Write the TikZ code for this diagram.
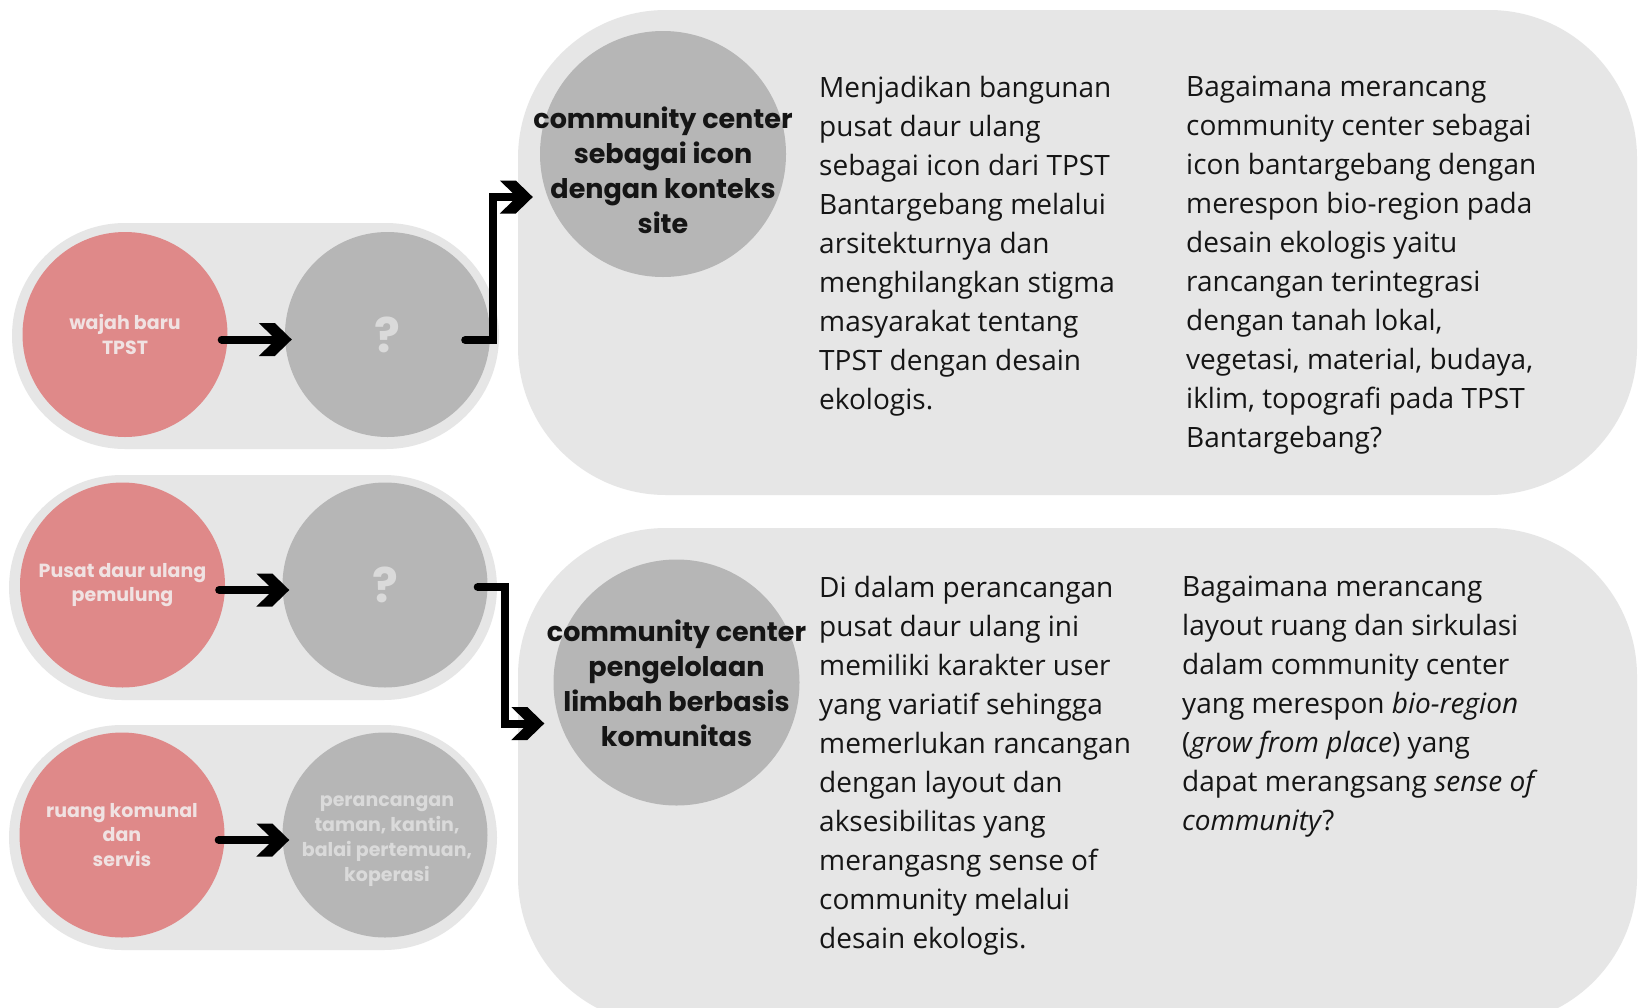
\documentclass[tikz,border=0pt]{standalone}
\usepackage{fontspec}
\setmainfont{Open Sans}
\newfontfamily\gothfam{Poppins}
\usetikzlibrary{arrows.meta}

% geometric sans for the disc labels
\newcommand\gothsmall{\gothfam\bfseries\fontsize{19}{24.5}\selectfont}
\newcommand\gothsmallx{\gothfam\bfseries\fontsize{19}{25.2}\selectfont}
\newcommand\gothbig{\gothfam\bfseries\fontsize{27}{35}\selectfont}
\newcommand\gothmark{\gothfam\bfseries\fontsize{48}{48}\selectfont}
\newcommand\bodytext{\fontsize{28}{39}\selectfont}

\definecolor{panel}{HTML}{E6E6E6}
\definecolor{rose}{HTML}{DF8989}
\definecolor{disc}{HTML}{B6B6B6}
\definecolor{rosetext}{HTML}{F0E2E2}
\definecolor{disctext}{HTML}{DADADA}
\definecolor{ink}{HTML}{151515}

% heavy chevron tip
\pgfdeclarearrow{
  name = Chevron,
  setup code = {
    \pgfarrowssettipend{0pt}
    \pgfarrowssetlineend{-14pt}
    \pgfarrowssetbackend{-33pt}
    \pgfarrowssetvisualbackend{-18pt}
  },
  drawing code = {
    \pgfpathmoveto{\pgfpoint{0pt}{0pt}}
    \pgfpathlineto{\pgfpoint{-17pt}{16.5pt}}
    \pgfpathlineto{\pgfpoint{-33pt}{16.5pt}}
    \pgfpathlineto{\pgfpoint{-16pt}{0pt}}
    \pgfpathlineto{\pgfpoint{-33pt}{-16.5pt}}
    \pgfpathlineto{\pgfpoint{-17pt}{-16.5pt}}
    \pgfpathclose
    \pgfusepathqfill
  }
}

\tikzset{
  pillbox/.style={fill=panel, rounded corners=113pt},
  panelbox/.style={fill=panel, rounded corners=148pt},
  rosedisc/.style={circle, fill=rose, minimum size=205pt, inner sep=0pt,
    text=rosetext, align=center, font=\gothsmall},
  greydisc/.style={circle, fill=disc, minimum size=205pt, inner sep=0pt,
    text=disctext, align=center, font=\gothsmall},
  disctxt/.style={align=center, inner sep=0pt, text=disctext, font=\gothsmallx},
  bigdisc/.style={circle, fill=disc, minimum size=246pt, inner sep=0pt},
  disclabel/.style={align=center, font=\gothbig, text=ink, inner sep=0pt},
  body/.style={anchor=north west, align=left, inner sep=0pt, font=\bodytext, text=ink},
  conn/.style={draw=black, line width=8pt, line cap=round, line join=miter, -{Chevron}}
}

\begin{document}
\begin{tikzpicture}[x=1pt, y=-1pt]
\clip (0,0) rectangle (1641,1007);
\fill[white] (0,0) rectangle (1641,1007);

% background panels
\fill[pillbox] (12,223) rectangle (499,449);
\fill[pillbox] (9,475) rectangle (497,700);
\fill[pillbox] (9,725) rectangle (497,950);
\fill[panelbox] (518,10) rectangle (1637,495);
\fill[panelbox] (518,528) rectangle (1637,1025);

% left discs
\node[rosedisc] (r1) at (125,334.5) {wajah baru\\TPST};
\node[greydisc] (g1) at (387.5,334.5) {\gothmark ?};
\node[rosedisc] (r2) at (122.5,585) {Pusat daur ulang\\pemulung};
\node[greydisc] (g2) at (385,585) {\gothmark ?};
\node[rosedisc] (r3) at (122,835) {ruang komunal\\dan\\servis};
\node[greydisc] (g3) at (385,835) {};
\node[disctxt] (g3t) at (387,841) {perancangan\\taman, kantin,\\balai pertemuan,\\koperasi};

% large discs
\node[bigdisc] (c1) at (663,154) {};
\node[disclabel] (c1t) at (663,170) {community center\\sebagai icon\\dengan konteks\\site};
\node[bigdisc] (c2) at (676.5,682.5) {};
\node[disclabel] (c2t) at (676.5,683) {community center\\pengelolaan\\limbah berbasis\\komunitas};

% panel texts
\node[body] (t1a) at (819,76) {Menjadikan bangunan\\pusat daur ulang\\sebagai icon dari TPST\\Bantargebang melalui\\arsitekturnya dan\\menghilangkan stigma\\masyarakat tentang\\TPST dengan desain\\ekologis.};
\node[body] (t1b) at (1186,76) {Bagaimana merancang\\community center sebagai\\icon bantargebang dengan\\merespon bio-region pada\\desain ekologis yaitu\\rancangan terintegrasi\\dengan tanah lokal,\\vegetasi, material, budaya,\\iklim, topografi pada TPST\\Bantargebang?};
\node[body] (t2a) at (819,576) {Di dalam perancangan\\pusat daur ulang ini\\memiliki karakter user\\yang variatif sehingga\\memerlukan rancangan\\dengan layout dan\\aksesibilitas yang\\merangasng sense of\\community melalui\\desain ekologis.};
\node[body] (t2b) at (1182,576) {Bagaimana merancang\\layout ruang dan sirkulasi\\dalam community center\\yang merespon \textit{bio-region}\\(\textit{grow from place}) yang\\dapat merangsang \textit{sense of}\\\textit{community}?};

% connectors
\draw[conn] ([shift={(-6,5)}]r1.east) -- ([shift={(7,5)}]g1.west);
\draw[conn] ([shift={(-6,5)}]r2.east) -- ([shift={(7,5)}]g2.west);
\draw[conn] ([shift={(-6,5)}]r3.east) -- ([shift={(7,5)}]g3.west);

\coordinate (k1) at (493,340);
\coordinate (k2) at (505,587);
\draw[conn] ([shift={(-25,5.5)}]g1.east) -- (k1) |- ([shift={(-7,43)}]c1.west);
\draw[conn] ([shift={(-10,2)}]g2.east) -- (k2) |- ([shift={(-9,41)}]c2.west);
\end{tikzpicture}
\end{document}
